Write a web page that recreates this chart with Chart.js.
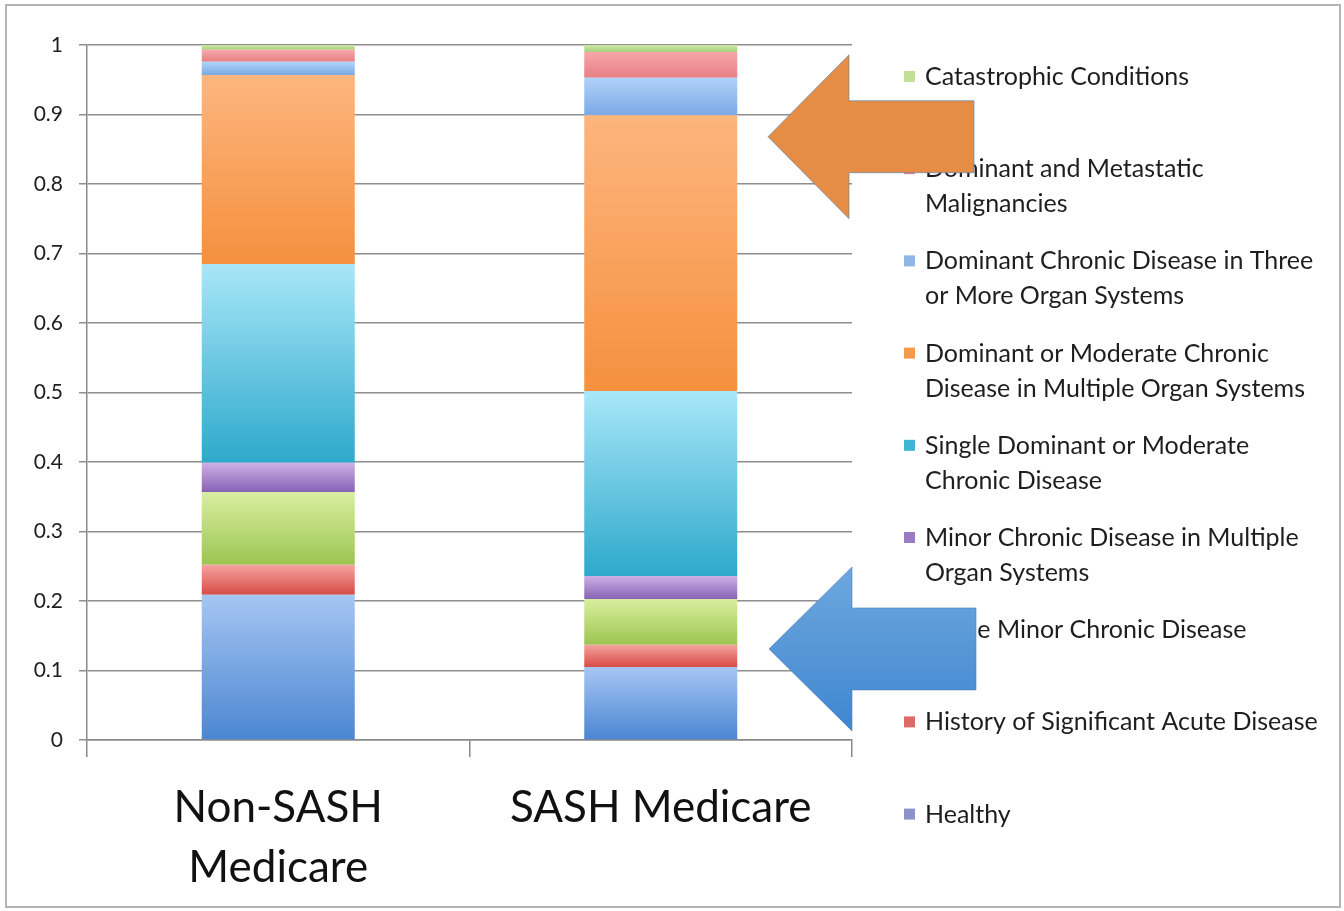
<!DOCTYPE html>
<html>
<head>
<meta charset="utf-8">
<script src="https://cdn.jsdelivr.net/npm/chart.js@4"></script>
<style>
  html, body { margin: 0; padding: 0; background: #fff; }
  #wrap { width: 1344px; height: 911px; position: relative; }
</style>
</head>
<body>
<div id="wrap"><canvas id="riskChart" width="1344" height="911"></canvas></div>
<script>
const categories = [["Non-SASH", "Medicare"], "SASH Medicare"];

// stacking order, bottom to top
const seriesNames = [
  "Healthy",
  "History of Significant Acute Disease",
  "Single Minor Chronic Disease",
  "Minor Chronic Disease in Multiple Organ Systems",
  "Single Dominant or Moderate Chronic Disease",
  "Dominant or Moderate Chronic Disease in Multiple Organ Systems",
  "Dominant Chronic Disease in Three or More Organ Systems",
  "Dominant and Metastatic Malignancies",
  "Catastrophic Conditions"
];

const legendLines = [
  ["Healthy"],
  ["History of Significant Acute Disease"],
  ["Single Minor Chronic Disease"],
  ["Minor Chronic Disease in Multiple", "Organ Systems"],
  ["Single Dominant or Moderate", "Chronic Disease"],
  ["Dominant or Moderate Chronic", "Disease in Multiple Organ Systems"],
  ["Dominant Chronic Disease in Three", "or More Organ Systems"],
  ["Dominant and Metastatic", "Malignancies"],
  ["Catastrophic Conditions"]
];

const healthy       = [0.209, 0.105];
const acuteHistory  = [0.043, 0.032];
const singleMinor   = [0.105, 0.066];
const minorMultiple = [0.042, 0.033];
const singleDom     = [0.286, 0.266];
const domMultiple   = [0.272, 0.397];
const domThree      = [0.019, 0.054];
const malignancies  = [0.017, 0.037];
const catastrophic  = [0.007, 0.010];

const seriesValues = [healthy, acuteHistory, singleMinor, minorMultiple, singleDom,
                      domMultiple, domThree, malignancies, catastrophic];

const yTicks = [0, 0.1, 0.2, 0.3, 0.4, 0.5, 0.6, 0.7, 0.8, 0.9, 1];

// [top colour, bottom colour]
const seriesColors = [
  ["#a6c6f3", "#4b86d2"],
  ["#f5a3a0", "#d84c46"],
  ["#d9efa0", "#9cc450"],
  ["#cfb0e6", "#8763b6"],
  ["#a8e7f8", "#2ea9cc"],
  ["#fdb57e", "#f5903e"],
  ["#b0d3f8", "#7ca8e6"],
  ["#f7a7ab", "#e77f84"],
  ["#cde9a4", "#a7cf7e"]
];
const legendSwatch = ["#8b93c8", "#dc6a66", "#b5d67a", "#9b7cc4", "#3fb4d4", "#f39a4f", "#8fb6e4", "#ea8a8e", "#c1df95"];

const FONT = "Lato, 'Open Sans', sans-serif";

function segmentFill(c) {
  const colors = seriesColors[c.datasetIndex];
  const chart = c.chart;
  const y = chart.scales && chart.scales.y;
  if (c.type !== 'data' || !y) return colors[1];
  let lo = 0;
  for (let k = 0; k < c.datasetIndex; k++) lo += seriesValues[k][c.dataIndex];
  const hi = lo + seriesValues[c.datasetIndex][c.dataIndex];
  const y0 = y.getPixelForValue(hi), y1 = y.getPixelForValue(lo);
  if (!isFinite(y0) || !isFinite(y1) || y0 === y1) return colors[1];
  const g = chart.ctx.createLinearGradient(0, y0, 0, y1);
  g.addColorStop(0, colors[0]);
  g.addColorStop(1, colors[1]);
  return g;
}

const frame = {
  id: 'frame',
  beforeDraw(chart) {
    const ctx = chart.ctx;
    ctx.save();
    ctx.strokeStyle = '#b4b4b4';
    ctx.lineWidth = 2;
    ctx.strokeRect(6, 5, chart.width - 10, chart.height - 9);
    ctx.restore();
  }
};

const sideLegend = {
  id: 'sideLegend',
  afterDraw(chart) {
    const ctx = chart.ctx;
    const left = chart.chartArea.right + 52;
    const top = 77, pitch = 92.2, lineGap = 35;
    ctx.save();
    ctx.font = "25px " + FONT;
    ctx.textBaseline = 'middle';
    for (let n = 0; n < seriesNames.length; n++) {
      const idx = seriesNames.length - 1 - n;
      const yc = top + n * pitch;
      ctx.fillStyle = legendSwatch[idx];
      ctx.fillRect(left, yc - 6, 11, 11);
      ctx.fillStyle = '#1e1e1e';
      legendLines[idx].forEach((t, j) => ctx.fillText(t, left + 21, yc + j * lineGap));
    }
    ctx.restore();
  }
};

function drawArrow(ctx, tipX, tipY, headX, headHalf, tailX, shaftHalf, fill) {
  ctx.beginPath();
  ctx.moveTo(tipX, tipY);
  ctx.lineTo(headX, tipY - headHalf);
  ctx.lineTo(headX, tipY - shaftHalf);
  ctx.lineTo(tailX, tipY - shaftHalf);
  ctx.lineTo(tailX, tipY + shaftHalf);
  ctx.lineTo(headX, tipY + shaftHalf);
  ctx.lineTo(headX, tipY + headHalf);
  ctx.closePath();
  ctx.fillStyle = fill;
  ctx.fill();
  ctx.strokeStyle = 'rgba(79,129,189,0.6)';
  ctx.lineWidth = 1;
  ctx.stroke();
}

const arrows = {
  id: 'arrows',
  afterDraw(chart) {
    const ctx = chart.ctx;
    const r = chart.chartArea.right;
    const y = chart.scales.y;
    ctx.save();
    drawArrow(ctx, r - 84, y.getPixelForValue(0.868), r - 3, 82, r + 122, 36, '#e58d44');
    const tipB = y.getPixelForValue(0.131);
    const g = ctx.createLinearGradient(0, tipB - 82, 0, tipB + 82);
    g.addColorStop(0, '#6ea8de');
    g.addColorStop(1, '#3f86d0');
    drawArrow(ctx, r - 83, tipB, r, 82, r + 124, 41, g);
    ctx.restore();
  }
};

new Chart(document.getElementById('riskChart'), {
  type: 'bar',
  data: {
    labels: categories,
    datasets: seriesNames.map((name, i) => ({
      label: name,
      data: seriesValues[i],
      backgroundColor: segmentFill,
      borderWidth: 0,
      barPercentage: 0.4,
      categoryPercentage: 1.0
    }))
  },
  options: {
    responsive: false,
    animation: false,
    layout: { padding: { top: 45, right: 492, bottom: 0, left: 0 } },
    plugins: {
      legend: { display: false },
      tooltip: { enabled: false }
    },
    scales: {
      x: {
        stacked: true,
        grid: { offset: true, drawOnChartArea: false, drawTicks: true, tickLength: 17, color: '#8a8a8a', lineWidth: 1.5 },
        border: { color: '#8a8a8a', width: 1.5 },
        ticks: { color: '#111', padding: 21, font: { family: FONT, size: 44, lineHeight: 1.36 } },
        afterFit(s) { s.height = 171; }
      },
      y: {
        stacked: true,
        min: 0,
        max: 1,
        afterBuildTicks(s) { s.ticks = yTicks.map(v => ({ value: v })); },
        grid: { color: '#8e8e8e', lineWidth: 1.5, tickLength: 8 },
        border: { color: '#8a8a8a', width: 1.5 },
        ticks: {
          color: '#1e1e1e',
          padding: 16,
          font: { family: FONT, size: 21 },
          callback: v => String(Math.round(v * 10) / 10)
        },
        afterFit(s) { s.width = 87; }
      }
    }
  },
  plugins: [frame, sideLegend, arrows]
});
</script>
</body>
</html>
